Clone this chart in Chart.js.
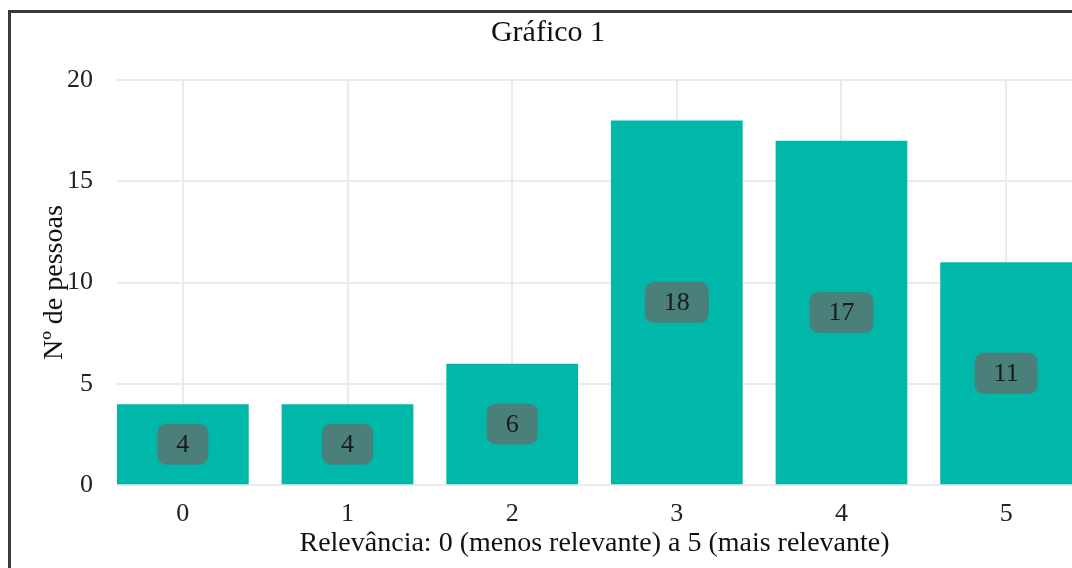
<!DOCTYPE html>
<html>
<head>
<meta charset="utf-8">
<script src="https://cdn.jsdelivr.net/npm/chart.js@4"></script>
<style>
  html, body { margin: 0; padding: 0; background: #fff; overflow: hidden; }
  #moldura {
    position: absolute; left: 8px; top: 10px;
    border-left: 3px solid #3a3a3a; border-top: 3px solid #3a3a3a;
    width: 1061px; height: 555px;
  }
</style>
</head>
<body>
<div id="moldura"><canvas id="grafico" width="1061" height="555"></canvas></div>
<script>
// Dados do gráfico
var categorias = [0, 1, 2, 3, 4, 5];
var pessoas = [4, 4, 6, 18, 17, 11];
var ticksY = [0, 5, 10, 15, 20];

var fonte = "'Liberation Serif', 'Times New Roman', serif";

// Rótulos no meio das barras (estilo geom_label)
var rotulos = {
    id: 'rotulos',
    afterDatasetsDraw: function (chart) {
        var ctx = chart.ctx;
        var meta = chart.getDatasetMeta(0);
        ctx.save();
        ctx.font = '26px ' + fonte;
        ctx.textAlign = 'center';
        ctx.textBaseline = 'middle';
        meta.data.forEach(function (bar, i) {
            var txt = String(pessoas[i]);
            var w = ctx.measureText(txt).width + 38;
            var h = 41;
            var cy = (bar.y + bar.base) / 2;
            ctx.fillStyle = '#4b7f7a';
            ctx.beginPath();
            ctx.roundRect(bar.x - w / 2, cy - h / 2, w, h, 9);
            ctx.fill();
            ctx.fillStyle = '#1a1a1a';
            ctx.fillText(txt, bar.x, cy + 1);
        });
        ctx.restore();
    }
};

var ctx = document.getElementById('grafico').getContext('2d');
var grafico = new Chart(ctx, {
    type: 'bar',
    data: {
        datasets: [{
            data: categorias.map(function (c, i) { return { x: c, y: pessoas[i] }; }),
            backgroundColor: '#00b8a9',
            barPercentage: 0.8,
            categoryPercentage: 1
        }]
    },
    options: {
        responsive: false,
        animation: false,
        layout: { padding: { left: 13, right: 0, top: 2, bottom: 4 } },
        plugins: {
            legend: { display: false },
            tooltip: { enabled: false },
            title: {
                display: true,
                text: 'Gráfico 1',
                color: '#111',
                font: { family: fonte, size: 30, weight: 'normal' },
                padding: { top: 0, bottom: 29 }
            }
        },
        scales: {
            x: {
                type: 'linear',
                offset: false,
                min: -0.4,
                max: 5.4,
                afterBuildTicks: function (s) {
                    s.ticks = categorias.map(function (v) { return { value: v }; });
                },
                afterFit: function (s) { s.height = s.height - 16; },
                grid: { color: '#ebebeb', lineWidth: 2, drawTicks: false, offset: false },
                border: { display: false },
                ticks: {
                    color: '#222',
                    padding: 13,
                    font: { family: fonte, size: 26 }
                },
                title: {
                    display: true,
                    text: 'Relevância: 0 (menos relevante) a 5 (mais relevante)',
                    color: '#111',
                    font: { family: fonte, size: 28 },
                    padding: { top: 0, bottom: 4 }
                }
            },
            y: {
                min: 0,
                max: 20,
                afterBuildTicks: function (s) {
                    s.ticks = ticksY.map(function (v) { return { value: v }; });
                },
                afterFit: function (s) { s.width = 93; },
                grid: { color: '#ebebeb', lineWidth: 2, drawTicks: false },
                border: { display: false },
                ticks: {
                    color: '#222',
                    padding: 24,
                    font: { family: fonte, size: 26 }
                },
                title: {
                    display: true,
                    text: 'Nº de pessoas',
                    color: '#111',
                    font: { family: fonte, size: 28 },
                    padding: { top: 14, bottom: 0 }
                }
            }
        }
    },
    plugins: [rotulos]
});
</script>
</body>
</html>
